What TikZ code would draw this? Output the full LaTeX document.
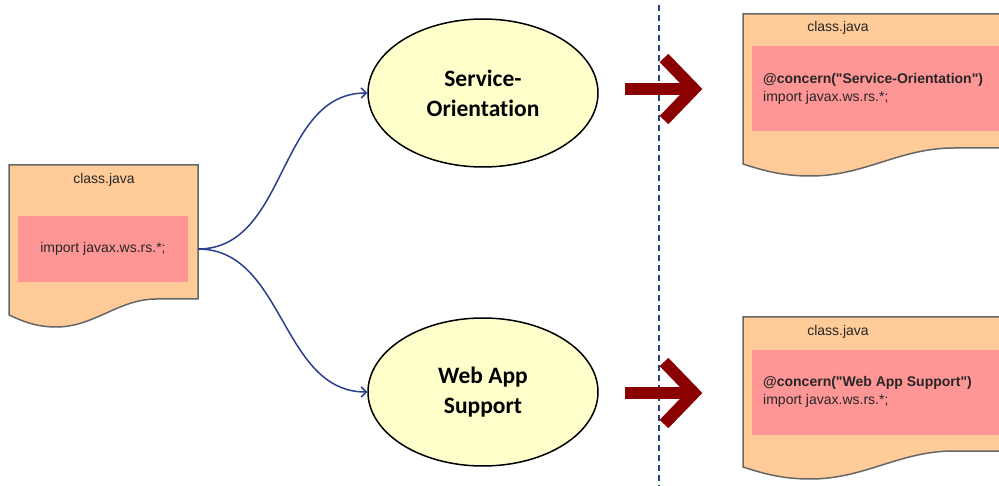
\documentclass[tikz,border=0pt]{standalone}
\usepackage{fontspec}
\setmainfont[Ligatures={TeXOff,NoCommon}]{Liberation Sans}
\newfontfamily\ovalfont[Ligatures={TeXOff,NoCommon}]{Carlito}
\usetikzlibrary{arrows.meta,shapes.geometric}

\definecolor{docfill}{HTML}{FFCC99}
\definecolor{docline}{HTML}{666666}
\definecolor{codefill}{HTML}{FF9696}
\definecolor{ovalfill}{HTML}{FFFFCC}
\definecolor{linkblue}{HTML}{2B3F8C}
\definecolor{splitblue}{HTML}{26408F}
\definecolor{arrowred}{HTML}{8B0000}

\tikzset{
  docbody/.style={fill=docfill, draw=docline, line width=1.5pt},
  codebox/.style={fill=codefill, draw=none, inner sep=0pt},
  doctitle/.style={font=\fontsize{14}{17}\selectfont, text=black!85, inner sep=0pt},
  codetext/.style={font=\fontsize{14}{18.5}\selectfont, text=black!85, inner sep=0pt, align=left},
  concernoval/.style={ellipse, fill=ovalfill, draw=black, line width=1.5pt,
    minimum width=230pt, minimum height=148pt, align=center,
    font=\ovalfont\bfseries\fontsize{23.5}{30}\selectfont},
  link/.style={draw=linkblue, line width=1.5pt,
    -{Straight Barb[length=5pt,width=10pt,line width=1.5pt]}},
  weave/.style={draw=arrowred, line width=12pt, line join=miter},
  divider/.style={draw=splitblue, line width=2pt, dash pattern=on 6pt off 4pt}
}

% a source file outline with a wavy lower edge
\newcommand\javadoc[3]{%
  \begin{scope}[shift={(#1,#2)}]
    \draw[docbody] (0,0) -- (#3,0) -- (#3,134) -- ({0.78*#3},134)
      .. controls ({0.58*#3},134) and ({0.45*#3},162) .. ({0.25*#3},162)
      .. controls ({0.14*#3},162) and ({0.07*#3},156) .. (0,150) -- cycle;
  \end{scope}}

\begin{document}
\begin{tikzpicture}[x=1pt,y=-1pt]
\clip (0,0) rectangle (999,486);
\fill[white] (0,0) rectangle (999,486);

% source file before weaving
\javadoc{9}{165}{189}
\node[doctitle] (srctitle) at (104,180) {class.java};
\node[codebox, minimum width=170pt, minimum height=66pt] (srccode) at (103,249) {};
\node[codetext] (srcimport) at (103,249) {import javax.ws.rs.*;};
\coordinate (fork) at (198,249);

% concerns
\node[concernoval] (svc) at (483,93) {Service-\\Orientation};
\node[concernoval] (web) at (483,392) {Web App\\Support};

\draw[link] (fork) to[out=0,in=180] (svc.west);
\draw[link] (fork) to[out=0,in=180] (web.west);

% separator
\coordinate (divtop) at (659,5);
\coordinate (divbot) at (659,486);
\draw[divider] (divtop) -- (divbot);

% weaving arrows
\draw[weave] (625,89) -- (694,89);
\draw[weave] (664,58) -- (694,89) -- (664,120);
\draw[weave] (625,393) -- (694,393);
\draw[weave] (664,362) -- (694,393) -- (664,424);

% annotated file: service orientation
\javadoc{743}{14}{270}
\node[doctitle] (svctitle) at (838,28) {class.java};
\node[codebox, minimum width=260pt, minimum height=85pt, anchor=north west] (svccode) at (752,46) {};
\node[codetext, anchor=west] (svctext) at (763,89)
  {\textbf{@concern("Service-Orientation")}\\import javax.ws.rs.*;};

% annotated file: web app support
\javadoc{743}{317}{270}
\node[doctitle] (webtitle) at (838,332) {class.java};
\node[codebox, minimum width=260pt, minimum height=85pt, anchor=north west] (webcode) at (752,350) {};
\node[codetext, anchor=west] (webtext) at (763,392)
  {\textbf{@concern("Web App Support")}\\import javax.ws.rs.*;};
\end{tikzpicture}
\end{document}
